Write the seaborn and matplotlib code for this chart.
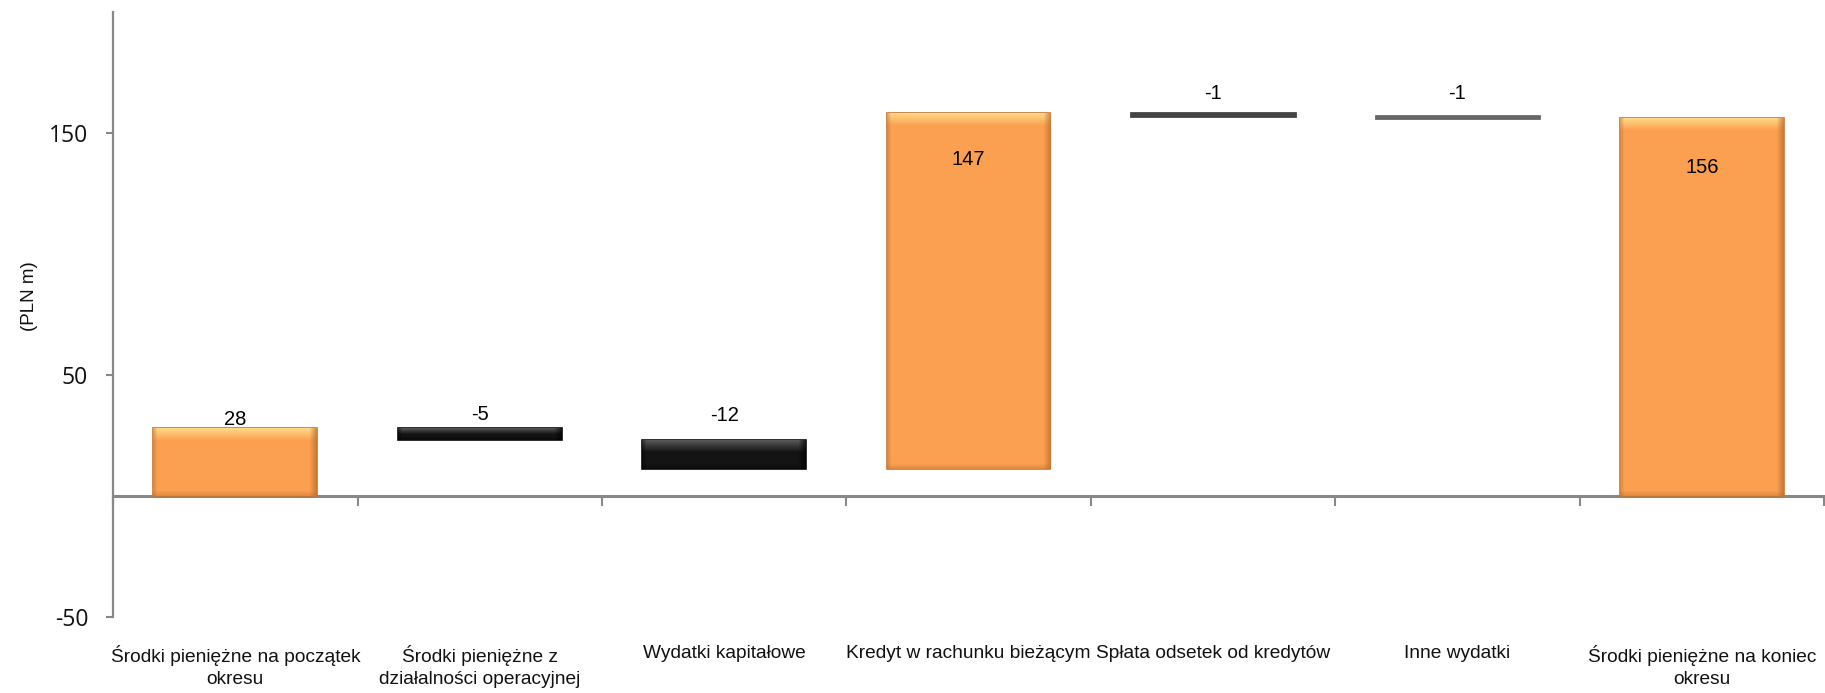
import matplotlib
matplotlib.use("Agg")
import matplotlib.pyplot as plt
from matplotlib.colors import to_rgb
import seaborn as sns
import numpy as np
import pandas as pd

categories = [
    "Środki pieniężne na początek\nokresu",
    "Środki pieniężne z\ndziałalności operacyjnej",
    "Wydatki kapitałowe",
    "Kredyt w rachunku bieżącym",
    "Spłata odsetek od kredytów",
    "Inne wydatki",
    "Środki pieniężne na koniec\nokresu",
]
values = [28, -5, -12, 147, -1, -1, 156]
kinds = ["total", "delta", "delta", "delta", "delta", "delta", "total"]
labels = ["28", "-5", "-12", "147", "-1", "-1", "156"]
bar_colors = ["#FBA050", "#141414", "#141414", "#FBA050", "#444444", "#666666", "#FBA050"]
edge_colors = ["#C47434", "#0A0A0A", "#0A0A0A", "#C47434", "#444444", "#666666", "#C47434"]
highlight_colors = ["#FFE38E", "#6A6A6A", "#6A6A6A", "#FFE38E", None, None, "#FFE38E"]
shade_colors = ["#B8692C", "#000000", "#000000", "#B8692C", None, None, "#B8692C"]
edge_widths = [1.2, 1.2, 1.2, 1.2, 2.0, 2.0, 1.2]
label_offsets_px = [9, 14, 25, -46, 20, 22, -49]
y_ticks = [-50, 50, 150]

# waterfall spans
bottoms, tops = [], []
running = 0.0
for v, k in zip(values, kinds):
    if k == "total":
        b, t = 0.0, v
        running = v
    else:
        b, t = running, running + v
        running = running + v
    bottoms.append(min(b, t))
    tops.append(max(b, t))

sns.set_theme(style="white")
plt.rcParams["font.family"] = ["Liberation Sans", "DejaVu Sans"]

fig = plt.figure(figsize=(18.25, 6.93), dpi=100)
ax = fig.add_axes([0.062, 0.110, 0.9375, 0.873])
ylim = (-50, 200)
xlim = (-0.5, len(categories) - 0.5)

df = pd.DataFrame({"cat": categories, "val": np.abs(values)})
sns.barplot(data=df, x="cat", y="val", hue="cat", palette=bar_colors,
            legend=False, width=0.67, ax=ax, saturation=1, order=categories,
            hue_order=categories)

ax_h_px = fig.get_figheight() * fig.dpi * ax.get_position().height
ax_w_px = fig.get_figwidth() * fig.dpi * ax.get_position().width
px_y = ax_h_px / (ylim[1] - ylim[0])
px_x = ax_w_px / (xlim[1] - xlim[0])


def bevel_image(base, hi, sh, h_px, w_px):
    rows, cols = max(int(round(h_px)), 2), max(int(round(w_px)), 2)
    b = np.array(to_rgb(base))
    img = np.tile(b, (rows, cols, 1)).astype(float)
    hi_c = np.array(to_rgb(hi))
    sh_c = np.array(to_rgb(sh))
    # top highlight band fading into base
    band = min(12, rows // 2)
    for r in range(band):
        t = 1 - r / band
        img[r, :, :] = b * (1 - 0.85 * t) + hi_c * 0.85 * t
    # right and left darker edges
    for c in range(min(7, cols // 4)):
        t = 1 - c / 7
        img[:, cols - 1 - c, :] = img[:, cols - 1 - c, :] * (1 - 0.7 * t) + sh_c * 0.7 * t
    for c in range(min(4, cols // 4)):
        t = 1 - c / 4
        img[:, c, :] = img[:, c, :] * (1 - 0.45 * t) + sh_c * 0.45 * t
    # bottom slight shade
    for r in range(min(5, rows // 4)):
        t = 1 - r / 5
        img[rows - 1 - r, :, :] = img[rows - 1 - r, :, :] * (1 - 0.4 * t) + sh_c * 0.4 * t
    return np.clip(img, 0, 1)


patches = sorted(ax.patches, key=lambda p: p.get_x())
for i, p in enumerate(patches):
    p.set_y(bottoms[i])
    p.set_height(tops[i] - bottoms[i])
    p.set_edgecolor(edge_colors[i])
    p.set_linewidth(edge_widths[i])
    p.set_zorder(3)
    x0, w = p.get_x(), p.get_width()
    if highlight_colors[i] is not None:
        img = bevel_image(bar_colors[i], highlight_colors[i], shade_colors[i],
                          (tops[i] - bottoms[i]) * px_y, w * px_x)
        im = ax.imshow(img, extent=(x0, x0 + w, bottoms[i], tops[i]), origin="upper",
                       aspect="auto", interpolation="bilinear", zorder=3.2)
        im.set_clip_path(p)
    cx = x0 + w / 2
    ax.annotate(labels[i], (cx, tops[i]), xytext=(0, label_offsets_px[i] * 0.72),
                textcoords="offset points", ha="center", va="center",
                fontsize=14.5, color="black", zorder=5)

ax.set_ylim(*ylim)
ax.set_xlim(*xlim)
ax.set_aspect("auto")
ax.set_yticks(y_ticks)
ax.set_yticklabels([str(t) for t in y_ticks], family=["Open Sans", "DejaVu Sans"],
                   fontsize=16.5, color="#111111")
ax.tick_params(axis="y", direction="out", length=5, width=1.5, color="#888888",
               left=True, pad=13)
ax.set_ylabel("(PLN m)", fontsize=13.5, color="#111111")
ax.yaxis.set_label_coords(-0.044, 0.53)

ax.set_xlabel("")
ax.set_xticks(range(len(categories)))
ax.set_xticklabels(categories, fontsize=13.8, linespacing=1.4, color="#111111")
ax.tick_params(axis="x", length=0, pad=20)

for s in ["top", "right", "bottom"]:
    ax.spines[s].set_visible(False)
ax.spines["left"].set_color("#888888")
ax.spines["left"].set_linewidth(1.6)

# category axis drawn at zero
sec = ax.secondary_xaxis(50 / 250)
sec.set_xticks(np.arange(len(categories) + 1) - 0.5)
sec.set_xticklabels([])
sec.tick_params(axis="x", direction="out", length=7, width=1.5, color="#888888")
sec.spines["bottom"].set_color("#888888")
sec.spines["bottom"].set_linewidth(2.2)
ax.grid(False)

fig.savefig("out.png", dpi=100, facecolor="white")
